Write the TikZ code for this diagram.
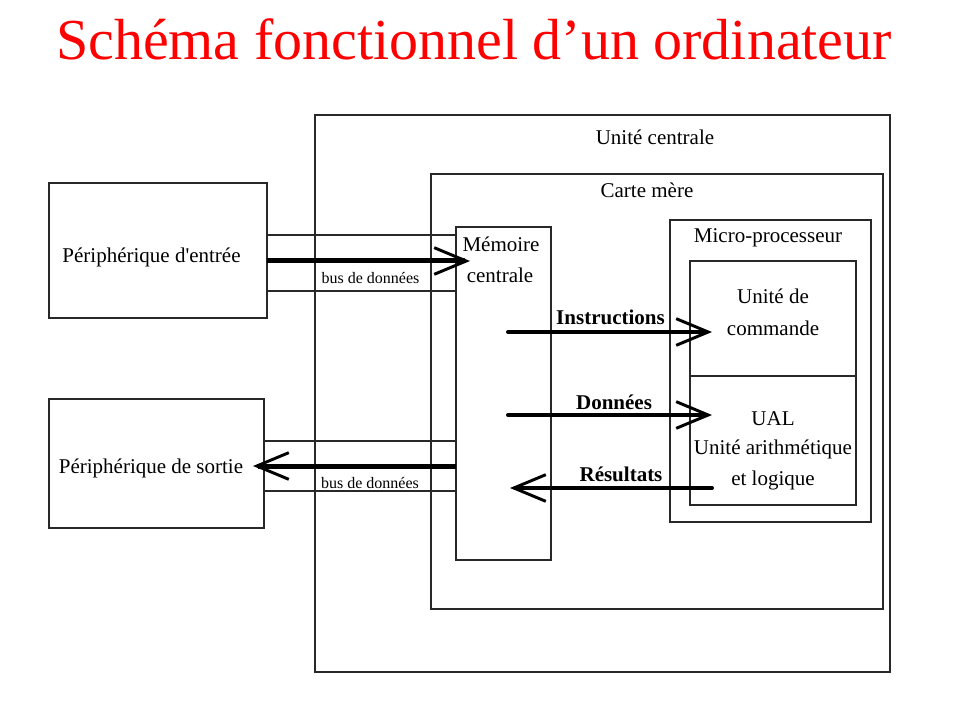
\documentclass[tikz,border=0pt]{standalone}
\usepackage{fontspec}
\setmainfont{Liberation Serif}
\usetikzlibrary{arrows.meta,fit}
\definecolor{titlered}{RGB}{255,0,0}
\definecolor{linegray}{RGB}{40,40,40}
\begin{document}
\begin{tikzpicture}[x=0.75pt,y=-0.75pt,
  box/.style={draw=linegray, line width=1.3pt, inner sep=0pt, fit={#1}},
  lbl/.style={anchor=base, inner sep=0pt, font=\fontsize{15.75}{18}\selectfont},
  blbl/.style={anchor=base, inner sep=0pt, font=\fontsize{15.75}{18}\selectfont\bfseries},
  slbl/.style={anchor=base, inner sep=0pt, font=\fontsize{12}{14}\selectfont},
  busline/.style={draw=linegray, line width=1.3pt},
  flowarrow/.style={line width=3pt, line cap=round, -{Straight Barb[length=24pt,width=20pt,line width=2.2pt]}},
  busarrow/.style={line width=3.75pt, -{Straight Barb[length=24pt,width=20pt,line width=2.2pt]}},
  ]
\useasboundingbox (0,0) rectangle (960,720);

% title
\node[anchor=base, text=titlered, inner sep=0pt, font=\fontsize{43.5}{50}\selectfont] (title) at (474,60) {Schéma fonctionnel d’un ordinateur};

% boxes
\node[box={(315,115) (890,672)}] (uc) {};
\node[box={(431,174) (883,609)}] (cm) {};
\node[box={(49,183) (267,318)}] (pe) {};
\node[box={(49,399) (264,528)}] (ps) {};
\node[box={(456,227) (551,560)}] (mem) {};
\node[box={(670,220) (871,522)}] (mp) {};
\node[box={(690,261) (856,376)}] (cmd) {};
\node[box={(690,376) (856,505)}] (ual) {};

% texts
\node[lbl] (tuc) at (655,145) {Unité centrale};
\node[lbl] (tcm) at (647,198) {Carte mère};
\node[lbl] (tmp) at (768,243) {Micro-processeur};
\node[lbl] (tpe) at (151.5,263) {Périphérique d\textquotesingle entrée};
\node[lbl] (tps) at (151,473) {Périphérique de sortie};
\node[lbl] (tmem1) at (501,252) {Mémoire};
\node[lbl] (tmem2) at (500,282) {centrale};
\node[lbl] (tcmd1) at (773,304) {Unité de};
\node[lbl] (tcmd2) at (773,335) {commande};
\node[lbl] (tual1) at (773,425) {UAL};
\node[lbl] (tual2) at (773,454) {Unité arithmétique};
\node[lbl] (tual3) at (773,485) {et logique};

\node[slbl] (bl1) at (370.5,284) {bus de données};
\node[slbl] (bl2) at (370,488) {bus de données};

\node[blbl] (li) at (610.5,325) {Instructions};
\node[blbl] (ld) at (614,409) {Données};
\node[blbl] (lr) at (621,481) {Résultats};

% bus lines
\draw[busline] (pe.east |- 0,235) -- (mem.west |- 0,235);
\draw[busline] (pe.east |- 0,291) -- (mem.west |- 0,291);
\draw[busline] (ps.east |- 0,441) -- (mem.west |- 0,441);
\draw[busline] (ps.east |- 0,491) -- (mem.west |- 0,491);

% arrow end points
\coordinate (b1s) at (267,261);
\coordinate (b1e) at (470,261);
\coordinate (b2s) at (456,466);
\coordinate (b2e) at (253,466);
\coordinate (i1) at (508,332);
\coordinate (i2) at (712,332);
\coordinate (d1) at (508,415);
\coordinate (d2) at (712,415);
\coordinate (r1) at (712,488);
\coordinate (r2) at (510,488);

\draw[busarrow] (b1s) -- (b1e);
\draw[busarrow] (b2s) -- (b2e);
\draw[flowarrow] (i1) -- (i2);
\draw[flowarrow] (d1) -- (d2);
\draw[flowarrow] (r1) -- (r2);
\end{tikzpicture}
\end{document}
